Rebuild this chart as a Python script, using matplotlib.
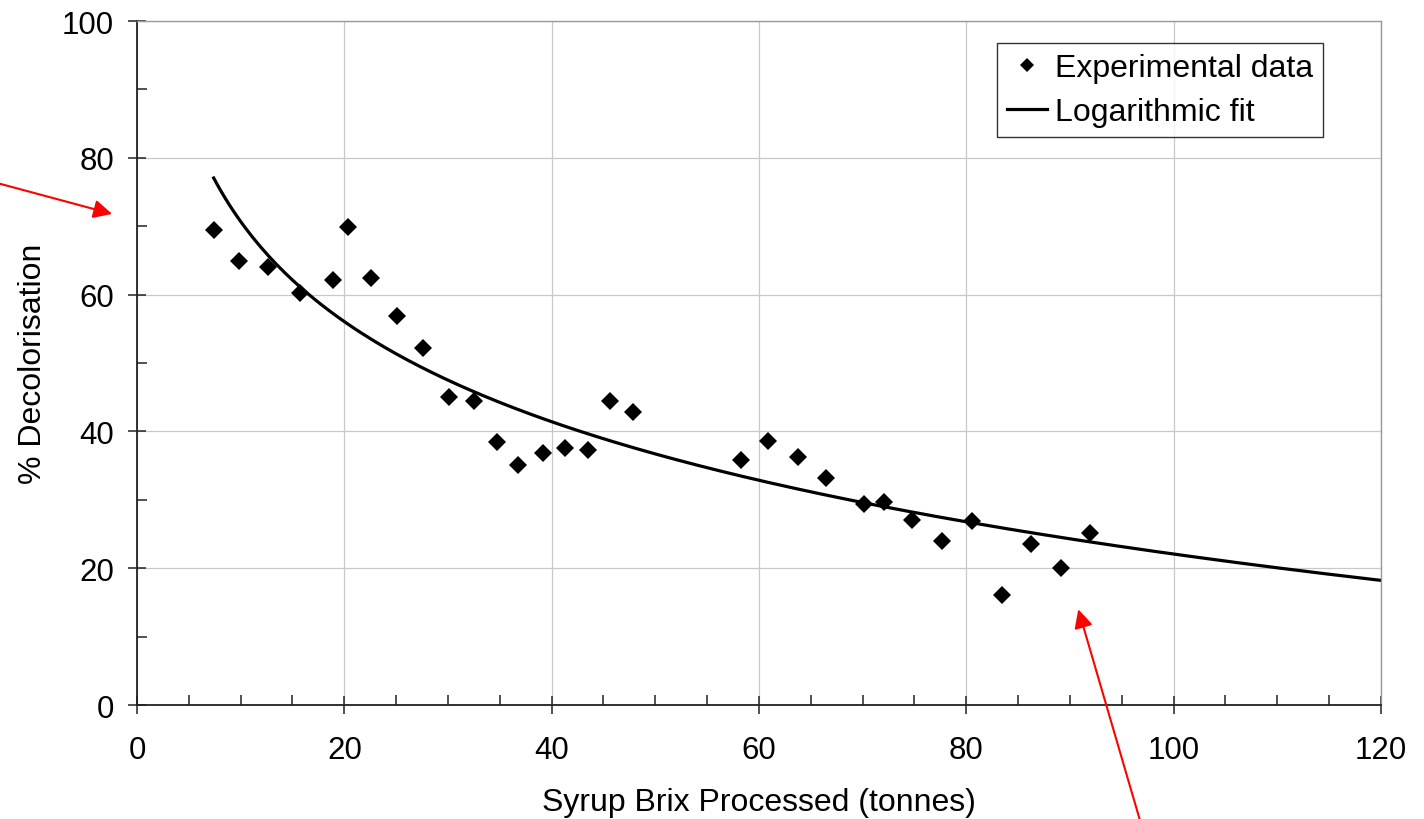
import numpy as np
import matplotlib
matplotlib.use('Agg')
import matplotlib.pyplot as plt
from matplotlib.ticker import MultipleLocator

plt.rcParams['font.family'] = ['Liberation Sans', 'DejaVu Sans']

# syrup brix processed (tonnes) vs % decolorisation
brix = [7.4, 9.8, 12.6, 15.7, 18.9, 20.4, 22.6, 25.1, 27.6, 30.1, 32.5,
        34.7, 36.8, 39.2, 41.3, 43.5, 45.6, 47.8, 58.3, 60.9, 63.8, 66.5,
        70.1, 72.1, 74.8, 77.7, 80.5, 83.4, 86.2, 89.1, 91.9]
decol = [69.4, 64.9, 64.1, 60.2, 62.1, 69.9, 62.4, 56.9, 52.2, 45.0, 44.4,
         38.5, 35.1, 36.9, 37.6, 37.3, 44.4, 42.8, 35.8, 38.6, 36.3, 33.2,
         29.4, 29.7, 27.0, 24.0, 26.9, 16.1, 23.6, 20.1, 25.2]

# logarithmic trendline y = a + b*ln(x), extended forward to 120 t
b, a = np.polyfit(np.log(brix), decol, 1)
x_fit = np.linspace(min(brix), 120, 300)
y_fit = a + b * np.log(x_fit)

fig = plt.figure(figsize=(14.24, 8.2), dpi=100)
ax = fig.add_axes([0.0962, 0.139, 0.8736, 0.8341])

ax.plot(brix, decol, 'D', color='black', markersize=9.5, markeredgewidth=0,
        label='Experimental data', zorder=3)
ax.plot(x_fit, y_fit, color='black', linewidth=2.3, label='Logarithmic fit',
        zorder=2)

ax.set_xlim(0, 120)
ax.set_ylim(0, 100)
ax.xaxis.set_major_locator(MultipleLocator(20))
ax.xaxis.set_minor_locator(MultipleLocator(5))
ax.yaxis.set_major_locator(MultipleLocator(20))
ax.yaxis.set_minor_locator(MultipleLocator(10))
ax.grid(True, which='major', color='#c8c8c8', linewidth=0.9)
ax.set_axisbelow(True)

ax.tick_params(which='major', direction='inout', length=13, width=1.1,
               labelsize=22.5, color='#222222')
ax.tick_params(axis='x', which='major', pad=15)
ax.tick_params(axis='y', which='major', pad=10)
ax.tick_params(which='minor', direction='in', length=7, width=1.1,
               color='#222222')

for side in ['left', 'bottom']:
    ax.spines[side].set_color('#222222')
    ax.spines[side].set_linewidth(1.3)
for side in ['top', 'right']:
    ax.spines[side].set_color('#9a9a9a')
    ax.spines[side].set_linewidth(1.0)

ax.set_xlabel('Syrup Brix Processed (tonnes)', fontsize=23)
ax.set_ylabel('% Decolorisation', fontsize=23)
ax.xaxis.set_label_coords(0.5, -0.12)
ax.yaxis.set_label_coords(-0.0715, 0.5)

leg = ax.legend(loc='upper right', bbox_to_anchor=(0.9534, 0.9678),
                borderaxespad=0, fontsize=23, frameon=True, fancybox=False,
                edgecolor='black', markerscale=0.7, handlelength=1.25,
                handletextpad=0.25, borderpad=0.32, labelspacing=0.42)
leg.get_frame().set_linewidth(1.0)

# red pointer arrows
ax.annotate('', xy=(-2.4, 71.8), xycoords='data',
            xytext=(-0.005, 0.777), textcoords='figure fraction',
            annotation_clip=False,
            arrowprops=dict(arrowstyle='-|>', color='red', lw=1.5,
                            mutation_scale=28, shrinkA=0, shrinkB=0))
ax.annotate('', xy=(90.8, 14.0), xycoords='data',
            xytext=(0.8006, -0.002), textcoords='figure fraction',
            annotation_clip=False,
            arrowprops=dict(arrowstyle='-|>', color='red', lw=1.5,
                            mutation_scale=28, shrinkA=0, shrinkB=0))

fig.savefig('out.png', dpi=100)
